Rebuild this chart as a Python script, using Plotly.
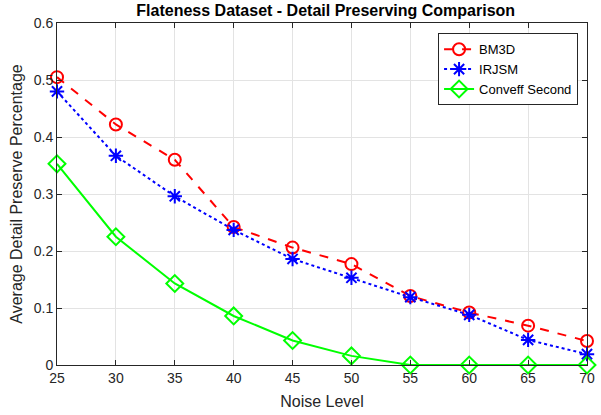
import plotly.graph_objects as go

noise = [25, 30, 35, 40, 45, 50, 55, 60, 65, 70]
bm3d = [0.505, 0.422, 0.360, 0.242, 0.206, 0.177, 0.121, 0.092, 0.069, 0.042]
irjsm = [0.480, 0.367, 0.296, 0.237, 0.186, 0.153, 0.119, 0.088, 0.044, 0.019]
conveff = [0.353, 0.225, 0.143, 0.086, 0.043, 0.016, 0.0, 0.0, 0.0, 0.0]
xticks = [25, 30, 35, 40, 45, 50, 55, 60, 65, 70]
yticks = [0, 0.1, 0.2, 0.3, 0.4, 0.5, 0.6]
yticktext = ["0", "0.1", "0.2", "0.3", "0.4", "0.5", "0.6"]

FONT = "Liberation Sans, Arial"

fig = go.Figure()
fig.add_trace(go.Scatter(x=noise, y=bm3d, name="BM3D", mode="lines+markers",
                         line=dict(color="#ff0000", width=2, dash="dash"),
                         marker=dict(symbol="circle-open", size=12, color="#ff0000", line=dict(width=2)),
                         cliponaxis=False))
fig.add_trace(go.Scatter(x=noise, y=irjsm, name="IRJSM", mode="lines+markers",
                         line=dict(color="#0000ff", width=2, dash="dot"),
                         marker=dict(symbol="asterisk-open", size=12, color="#0000ff", line=dict(width=2, color="#0000ff")),
                         cliponaxis=False))
fig.add_trace(go.Scatter(x=noise, y=conveff, name="Conveff Second", mode="lines+markers",
                         line=dict(color="#00ff00", width=2),
                         marker=dict(symbol="diamond-open", size=13, color="#00ff00", line=dict(width=2)),
                         cliponaxis=False))

axis_common = dict(showline=True, linecolor="#262626", linewidth=1, mirror="ticks",
                   ticks="inside", ticklen=5, tickcolor="#262626",
                   showgrid=True, gridcolor="#e3e3e3", gridwidth=1, zeroline=False,
                   ticklabeloverflow="allow",
                   tickfont=dict(family=FONT, size=14, color="#262626"))

fig.update_layout(
    width=601, height=415,
    margin=dict(l=57, r=6, t=23, b=50),
    paper_bgcolor="white", plot_bgcolor="white",
    title=dict(text="<b>Flateness Dataset - Detail Preserving Comparison</b>",
               x=0.542, xanchor="center", y=0.975, yanchor="middle",
               font=dict(family=FONT, size=16, color="black")),
    xaxis=dict(range=[25, 70], tickvals=xticks,
               title=dict(text="Noise Level", standoff=11,
                          font=dict(family=FONT, size=16, color="#262626")),
               **axis_common),
    yaxis=dict(range=[0, 0.6], tickvals=yticks, ticktext=yticktext,
               title=dict(text="Average Detail Preserve Percentage", standoff=7,
                          font=dict(family=FONT, size=16, color="#262626")),
               **axis_common),
    legend=dict(x=0.719, y=0.97, xanchor="left", yanchor="top",
                bgcolor="white", bordercolor="#262626", borderwidth=1,
                font=dict(family=FONT, size=13, color="black"),
                tracegroupgap=0, itemwidth=30),
    showlegend=True,
)

fig.write_html("out.html")
